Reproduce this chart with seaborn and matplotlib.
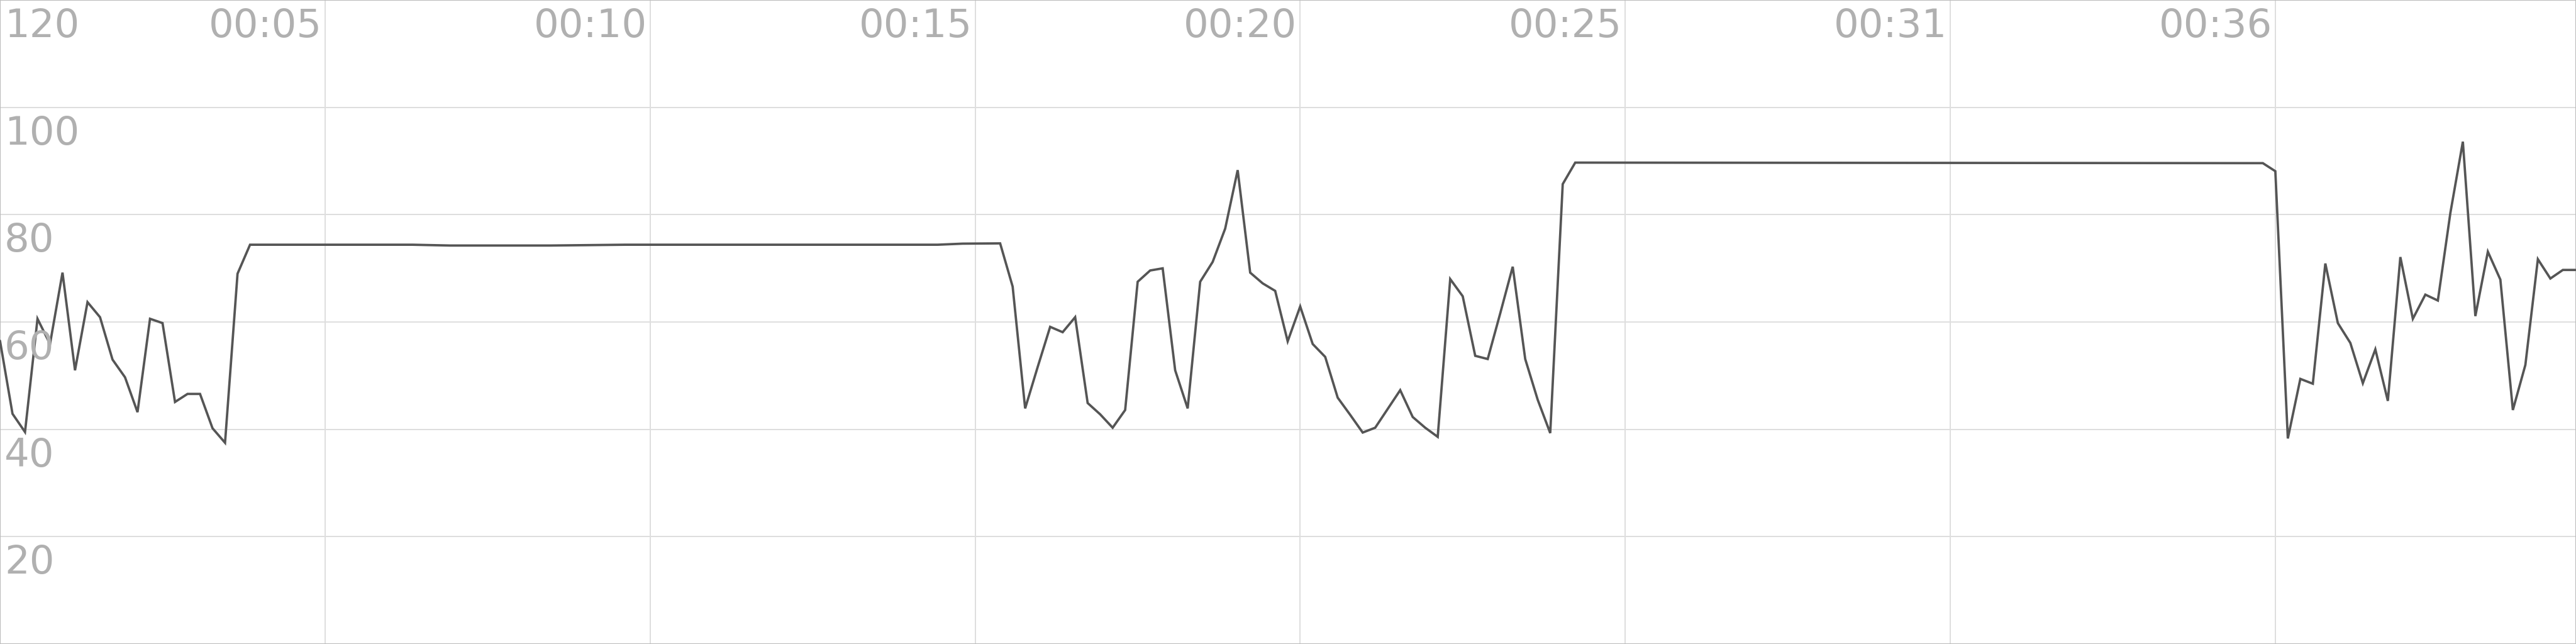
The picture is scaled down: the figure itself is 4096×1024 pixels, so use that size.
import numpy as np
import pandas as pd
import matplotlib
matplotlib.use("Agg")
import matplotlib.pyplot as plt
import seaborn as sns

# sample times (s, one sample every 0.2 s) and readings at the line's vertices
times = [0.0, 0.2, 0.4, 0.6, 0.8, 1.0, 1.2, 1.4, 1.6, 1.8,
         2.0, 2.2, 2.4, 2.6, 2.8, 3.0, 3.2, 3.4, 3.6, 3.8,
         4.0, 6.6, 7.2, 8.8, 10.0, 15.0, 15.4, 16.0, 16.2, 16.4,
         16.6, 16.8, 17.0, 17.2, 17.4, 17.6, 17.8, 18.0, 18.2, 18.4,
         18.6, 18.8, 19.0, 19.2, 19.4, 19.6, 19.8, 20.0, 20.2, 20.4,
         20.6, 20.8, 21.0, 21.2, 21.4, 21.6, 21.8, 22.0, 22.2, 22.4,
         22.6, 22.8, 23.0, 23.2, 23.4, 23.6, 23.8, 24.0, 24.2, 24.4,
         24.6, 24.8, 25.0, 25.2, 36.2, 36.4, 36.6, 36.8, 37.0, 37.2,
         37.4, 37.6, 37.8, 38.0, 38.2, 38.4, 38.6, 38.8, 39.0, 39.2,
         39.4, 39.6, 39.8, 40.0, 40.2, 40.4, 40.6, 40.8, 41.0, 41.2]
values = [56.5, 42.9, 39.5, 60.6, 55.9, 69.2, 51.0, 63.7, 60.9, 53.0,
          49.7, 43.2, 60.6, 59.8, 45.1, 46.6, 46.6, 40.2, 37.5, 69.0,
          74.4, 74.4, 74.25, 74.25, 74.4, 74.4, 74.6, 74.65, 66.6, 43.9,
          51.6, 59.1, 58.1, 60.9, 44.9, 42.8, 40.3, 43.6, 67.5, 69.6,
          70.0, 51.0, 43.9, 67.5, 71.2, 77.4, 88.3, 69.2, 67.2, 65.8,
          56.4, 62.9, 55.9, 53.5, 45.9, 42.7, 39.4, 40.3, 43.8, 47.3,
          42.3, 40.3, 38.6, 68.0, 64.8, 53.7, 53.1, 61.6, 70.3, 53.1,
          45.5, 39.3, 85.7, 89.7, 89.6, 88.1, 38.3, 49.4, 48.5, 70.9,
          59.8, 56.1, 48.6, 54.9, 45.3, 72.1, 60.6, 65.1, 64.0, 80.3,
          93.6, 61.1, 73.1, 67.9, 43.6, 52.0, 71.7, 68.1, 69.7, 69.7]

time_ticks = [5.2, 10.4, 15.6, 20.8, 26.0, 31.2, 36.4]
time_labels = ['00:05', '00:10', '00:15', '00:20', '00:25', '00:31', '00:36']
value_ticks = [120, 100, 80, 60, 40, 20]

df = pd.DataFrame({'t': times, 'v': values})

sns.set_style('white')
plt.rcParams['font.family'] = ['DejaVu Sans']

fig = plt.figure(figsize=(40.96, 10.24), dpi=100)
ax = fig.add_axes([0, 0, 1, 1])

sns.lineplot(data=df, x='t', y='v', ax=ax, color='#555555', linewidth=2.7,
             solid_joinstyle='miter', zorder=3)

ax.set_xlim(0, 41.21)
ax.set_ylim(0, 120)
ax.set_xticks(time_ticks)
ax.set_yticks([20, 40, 60, 80, 100])
ax.tick_params(length=0, labelbottom=False, labelleft=False)
ax.grid(True, color='#dedede', linewidth=1.4)
ax.set_xlabel('')
ax.set_ylabel('')
for s in ax.spines.values():
    s.set_color('#bcbcbc')
    s.set_linewidth(1.5)

label_style = dict(color='#b0b0b0', fontsize=45, textcoords='offset pixels',
                   va='top', annotation_clip=False)

for v in value_ticks:
    ax.annotate(str(v), xy=(0, v), xycoords=('axes fraction', 'data'),
                xytext=(7, -12), ha='left', **label_style)

for t, lab in zip(time_ticks, time_labels):
    ax.annotate(lab, xy=(t, 1), xycoords=('data', 'axes fraction'),
                xytext=(-5, -12), ha='right', **label_style)

fig.savefig('out.png', dpi=100)
